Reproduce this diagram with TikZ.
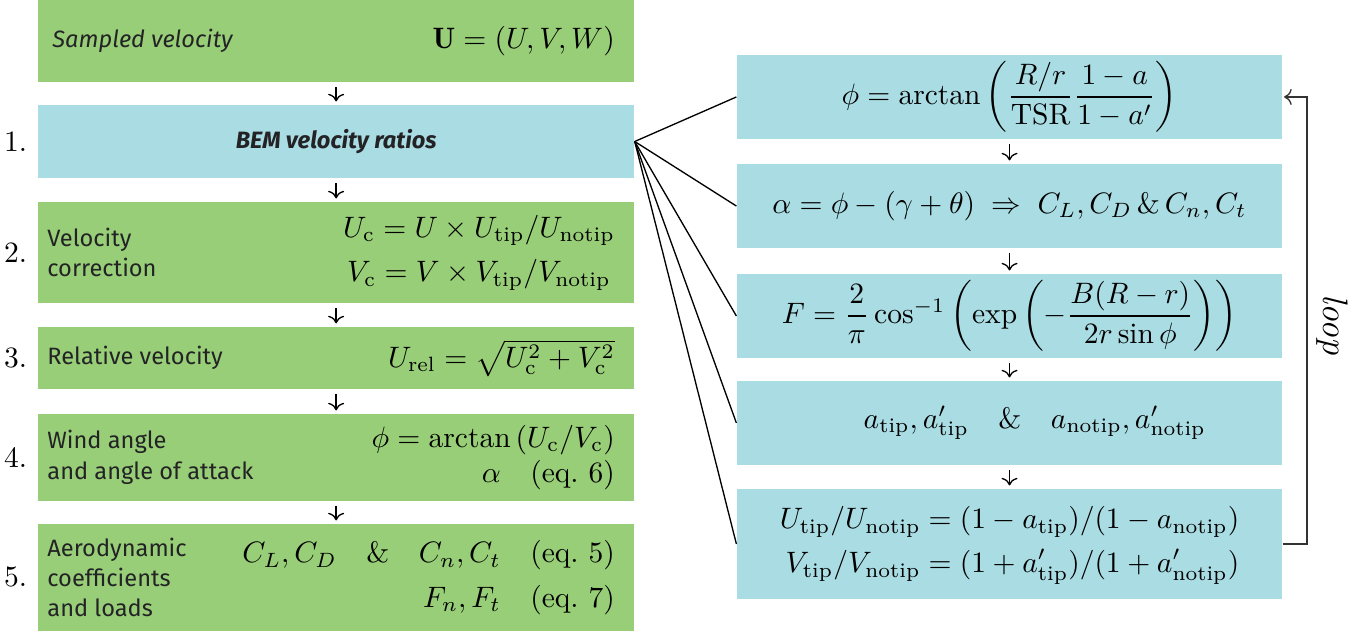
\documentclass[tikz,border=0pt]{standalone}
\usepackage{amsmath}
\usepackage{fontspec}
\setsansfont{Fira Sans}
\usetikzlibrary{
    arrows.meta,
    calc,
    positioning
}
\definecolor{ink}{RGB}{35,35,38}
\definecolor{stagegreen}{RGB}{152,206,119}
\definecolor{bemblue}{RGB}{170,220,227}
\newcommand{\stagefont}{\sffamily\fontsize{8.0}{10.3}\selectfont}
\tikzset{
    stage/.style={
        rectangle,
        fill=stagegreen,
        inner sep=0pt,
        minimum width=7.092cm
    },
    bemstage/.style={stage, fill=bemblue},
    iter/.style={
        rectangle,
        fill=bemblue,
        inner sep=0pt,
        minimum width=6.486cm,
        minimum height=1cm
    },
    stagelabel/.style={
        anchor=west,
        inner sep=0pt,
        align=left,
        text=ink,
        font=\stagefont
    },
    stageeq/.style={
        anchor=east,
        inner sep=0pt,
        align=right
    },
    stagenum/.style={anchor=east},
    flow/.style={
        ->,
        line width=0.45pt,
        shorten <=1.5pt,
        shorten >=1pt
    },
    fan/.style={line width=0.45pt},
    loopline/.style={
        ->,
        line width=0.45pt,
        draw=black!80,
        shorten >=0.5pt
    }
}

\begin{document}
\begin{tikzpicture}
\useasboundingbox (0,0) rectangle (16.16,7.521);

\def\lx{4.0}
\def\rx{12.013}
\def\lpad{0.11}
\def\rpad{0.23}

% left column: stages
\node[stage, minimum height=0.976cm] (sampled) at (\lx, 7.033) {};
\node[bemstage, minimum height=0.869cm] (bem) at (\lx, 5.837) {};
\node[stage, minimum height=1.202cm] (corr) at (\lx, 4.516) {};
\node[stage, minimum height=0.738cm] (rel) at (\lx, 3.261) {};
\node[stage, minimum height=1.035cm] (wind) at (\lx, 2.077) {};
\node[stage, minimum height=1.273cm] (aero) at (\lx, 0.649) {};

\node[stagelabel, font=\stagefont\itshape] (sampledtxt) at ([xshift=0.17cm]sampled.west) {Sampled velocity};
\node[stageeq] (sampledeq) at ([xshift=-\rpad cm]sampled.east) {$\mathbf{U} = (U, V, W)$};

\node[stagelabel, anchor=center, font=\stagefont\bfseries\itshape] (bemtxt) at (bem.center) {BEM velocity ratios};
\node[stagenum] (num1) at (bem.west) {1.};

\node[stagelabel] (corrtxt) at ([xshift=\lpad cm]corr.west) {Velocity\\correction};
\node[stageeq, align=center] (correq) at ([xshift=-\rpad cm]corr.east)
    {$\begin{gathered}
        U_\mathrm{c} = U \times U_\mathrm{tip}/U_\mathrm{notip}\\
        V_\mathrm{c} = V \times V_\mathrm{tip}/V_\mathrm{notip}
    \end{gathered}$};
\node[stagenum] (num2) at (corr.west) {2.};

\node[stagelabel] (reltxt) at ([xshift=\lpad cm]rel.west) {Relative velocity};
\node[stageeq] (releq) at ([xshift=-\rpad cm]rel.east) {$U_\mathrm{rel} = \sqrt{U_\mathrm{c}^2 + V_\mathrm{c}^2}$};
\node[stagenum] (num3) at (rel.west) {3.};

\node[stagelabel] (windtxt) at ([xshift=\lpad cm]wind.west) {Wind angle\\and angle of attack};
\node[stageeq] (windeq) at ([xshift=-\rpad cm]wind.east)
    {$\phi = \arctan\left(U_\mathrm{c}/V_\mathrm{c}\right)$\\$\alpha \quad \text{(eq.~6)}$};
\node[stagenum] (num4) at (wind.west) {4.};

\node[stagelabel] (aerotxt) at ([xshift=\lpad cm]aero.west) {Aerodynamic\\coefficients\\and loads};
\node[stageeq] (aeroeq) at ([xshift=-\rpad cm]aero.east)
    {$C_L, C_D \quad \& \quad C_n, C_t \quad \text{(eq.~5)}$\\[3pt]$F_n, F_t \quad \text{(eq.~7)}$};
\node[stagenum] (num5) at (aero.west) {5.};

\foreach \a/\b in {sampled/bem, bem/corr, corr/rel, rel/wind, wind/aero} {
    \draw[flow] (\a) -- (\b);
}

% right column: BEM iteration
\node[iter] (phi) at (\rx, 6.367)
    {$\phi = \arctan\left(\dfrac{R/r}{\mathrm{TSR}}\dfrac{1-a}{1-a'}\right)$};
\node[iter] (alpha) at (\rx, 5.069)
    {$\alpha = \phi - (\gamma + \theta) \;\Rightarrow\; C_L, C_D \,\&\, C_n, C_t$};
\node[iter] (tiploss) at (\rx, 3.760)
    {$F = \dfrac{2}{\pi}\cos^{-1}\left(\exp\left(-\dfrac{B(R-r)}{2r\sin\phi}\right)\right)$};
\node[iter] (induct) at (\rx, 2.487)
    {\hspace*{0.6cm}$a_\mathrm{tip}, a'_\mathrm{tip} \quad \& \quad a_\mathrm{notip}, a'_\mathrm{notip}$};
\node[iter, minimum height=1.309cm] (ratio) at (\rx, 1.047)
    {$\begin{aligned}
        U_\mathrm{tip}/U_\mathrm{notip} &= (1 - a_\mathrm{tip})/(1 - a_\mathrm{notip})\\
        V_\mathrm{tip}/V_\mathrm{notip} &= (1 + a'_\mathrm{tip})/(1 + a'_\mathrm{notip})
    \end{aligned}$};

\foreach \a/\b in {phi/alpha, alpha/tiploss, tiploss/induct, induct/ratio} {
    \draw[flow] (\a) -- (\b);
}

\foreach \n in {phi, alpha, tiploss, induct, ratio} {
    \draw[fan] (bem.east) -- (\n.west);
}

\coordinate (loopcol) at (15.553, 0);
\draw[loopline] (ratio.east) -- (ratio.east -| loopcol) |- (phi.east);
\node[rotate=-90] (looptxt) at (15.851, 3.653) {\large\textit{loop}};

\end{tikzpicture}
\end{document}
